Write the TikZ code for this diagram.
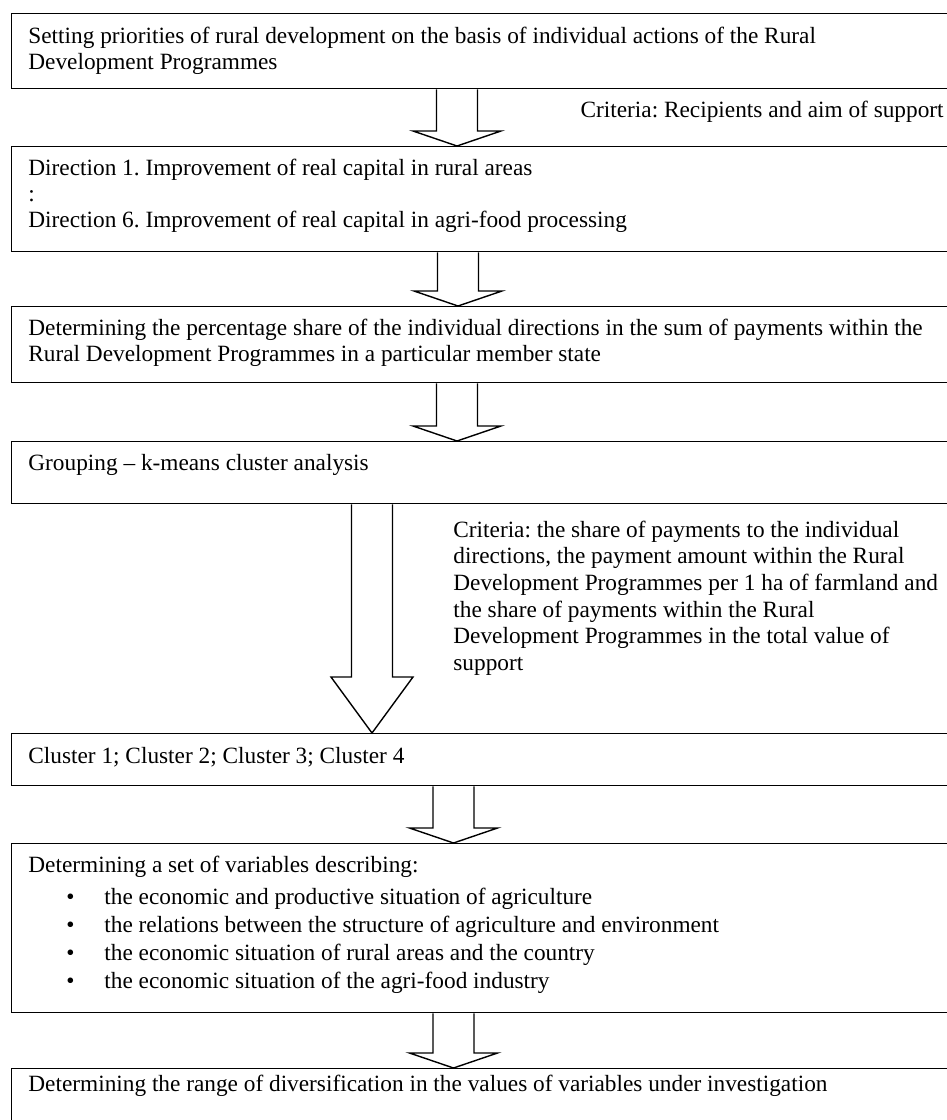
\documentclass[tikz,border=0pt]{standalone}
\usepackage{fontspec}
\setmainfont{Liberation Serif}
\usetikzlibrary{calc}
\newcommand\blockarrow[4]{%
  \draw[blkline] let \p1=(#1), \p2=(#2) in
    (\x1-10.25pt,\y1) -- (\x1-10.25pt,\y2+#4) -- (\x1-#3,\y2+#4) -- (\x2,\y2)
    -- (\x1+#3,\y2+#4) -- (\x1+10.25pt,\y2+#4) -- (\x1+10.25pt,\y1);}
\begin{document}
\frenchspacing
\begin{tikzpicture}[x=0.5pt,y=-0.5pt,
  box/.style={draw=black, line width=0.7pt, rectangle, anchor=north west, inner sep=0pt, minimum width=480pt},
  txt/.style={inner sep=0pt, align=left, anchor=base west, font=\fontsize{11.65}{13.35}\selectfont},
  blkline/.style={draw=black, line width=0.7pt, line join=miter}
]
\useasboundingbox (0,0) rectangle (947,1120);
\clip (0,0) rectangle (947,1120);

% boxes
\node[box, minimum height=37.5pt] (b1) at (11,13) {};
\node[box, minimum height=52.5pt] (b2) at (11,146) {};
\node[box, minimum height=38pt]   (b3) at (11,306) {};
\node[box, minimum height=31pt]   (b4) at (11,441) {};
\node[box, minimum height=26pt]   (b5) at (11,733) {};
\node[box, minimum height=84.5pt] (b6) at (11,843) {};
\node[box, minimum height=36pt]   (b7) at (11,1068) {};

% texts (anchor = baseline of the last line)
\node[txt] (t1) at (28,69.7) {Setting priorities of rural development on the basis of individual actions of the Rural\\Development Programmes};
\node[txt, anchor=base east] (c1) at (944,117) {Criteria: Recipients and aim of support};
\node[txt, font=\fontsize{11.65}{13}\selectfont] (t2) at (28,227) {Direction 1. Improvement of real capital in rural areas\\:\\Direction 6. Improvement of real capital in agri-food processing};
\node[txt] (t3) at (28,361.7) {Determining the percentage share of the individual directions in the sum of payments within the\\Rural Development Programmes in a particular member state};
\node[txt] (t4) at (28,470) {Grouping – k-means cluster analysis};
\node[txt] (c2) at (453,670.5) {Criteria: the share of payments to the individual\\directions, the payment amount within the Rural\\Development Programmes per 1 ha of farmland and\\the share of payments within the Rural\\Development Programmes in the total value of\\support};
\node[txt] (t5) at (28,763) {Cluster 1; Cluster 2; Cluster 3; Cluster 4};
\node[txt] (t6) at (28,872) {Determining a set of variables describing:};
\node[txt, font=\fontsize{11.65}{13.85}\selectfont] (t6b) at (28,988) {%
\hspace*{19pt}\makebox[19pt][l]{\textbullet}the economic and productive situation of agriculture\\
\hspace*{19pt}\makebox[19pt][l]{\textbullet}the relations between the structure of agriculture and environment\\
\hspace*{19pt}\makebox[19pt][l]{\textbullet}the economic situation of rural areas and the country\\
\hspace*{19pt}\makebox[19pt][l]{\textbullet}the economic situation of the agri-food industry};
\node[txt] (t7) at (28,1091) {Determining the range of diversification in the values of variables under investigation};

% block arrows
\blockarrow{[xshift=223pt]b1.south west}{[xshift=223pt]b2.north west}{22pt}{7.5pt}
\blockarrow{[xshift=223.5pt]b2.south west}{[xshift=223.5pt]b3.north west}{22pt}{7.5pt}
\blockarrow{[xshift=223pt]b3.south west}{[xshift=223pt]b4.north west}{22pt}{7.5pt}
\blockarrow{[xshift=180.5pt]b4.south west}{[xshift=180.5pt]b5.north west}{20.5pt}{28pt}
\blockarrow{[xshift=221.25pt]b5.south west}{[xshift=221.25pt]b6.north west}{22pt}{7.5pt}
\blockarrow{[xshift=221.25pt]b6.south west}{[xshift=221.25pt]b7.north west}{22pt}{7.5pt}
\end{tikzpicture}
\end{document}
